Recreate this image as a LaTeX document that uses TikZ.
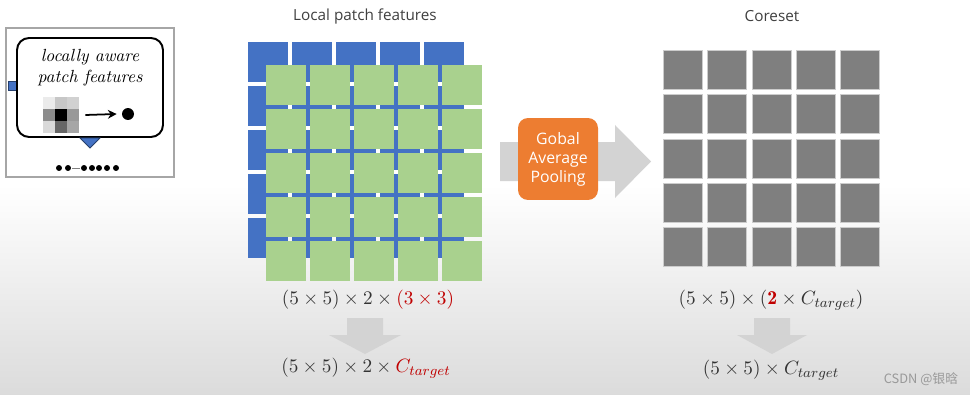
\documentclass[tikz,border=0pt]{standalone}
\usepackage{amsmath}
\usepackage{fontspec}
\setsansfont{Open Sans}
\newfontfamily\cjk{Noto Sans CJK SC}
\usepackage{tikz}
\usetikzlibrary{arrows.meta, positioning, calc}
\definecolor{pblue}{HTML}{4472C4}
\definecolor{pgreen}{HTML}{A9D18E}
\definecolor{cgray}{HTML}{7F7F7F}
\definecolor{agray}{HTML}{D3D3D3}
\definecolor{porange}{HTML}{ED7D31}
\definecolor{tred}{HTML}{C00000}
\tikzset{
  % --- Raster ----------------------------------------------
  cellb/.style={fill=pblue, minimum size=0.8cm, inner sep=0pt,
    anchor=north west},
  cellg/.style={fill=pgreen, minimum size=0.8cm, inner sep=0pt,
    anchor=north west},
  cellc/.style={fill=cgray, draw=black!20, line width=0.5pt,
    minimum size=0.78cm, inner sep=0pt, anchor=north west},
  % --- Texte -----------------------------------------------
  ttl/.style={font=\sffamily\fontsize{8.7}{10}\selectfont, text=black!75},
  eqn/.style={font=\fontsize{11.2}{13}\selectfont, text=black!80},
  itx/.style={font=\itshape\fontsize{10}{11}\selectfont, text=black,
    inner sep=0pt},
  % --- Kaesten / Pfeile ------------------------------------
  gap/.style={fill=porange, rounded corners=0.2cm, minimum width=1.6cm,
    minimum height=1.64cm, align=center, text=white,
    font=\sffamily\fontsize{9}{10.8}\selectfont},
  frame/.style={draw=black!35, fill=white, line width=0.8pt,
    minimum width=3.36cm, minimum height=2.98cm},
  bubble/.style={draw, line width=1.1pt, rounded corners=0.24cm, fill=white,
    minimum width=2.92cm, minimum height=1.98cm},
  tab/.style={fill=pblue, draw=pblue!55!black, line width=0.5pt,
    minimum size=0.18cm, inner sep=0pt},
  blk/.style={fill=agray},
  arr/.style={-{Stealth[length=5pt, width=5pt]}, line width=1pt}
}

\begin{document}
\begin{tikzpicture}[x=0.02cm, y=-0.02cm]

  \useasboundingbox (0,0) rectangle (970,395);
  \fill[white] (0,0) rectangle (970,395);
  \shade[top color=white, bottom color=black!14] (0,185) rectangle (970,395);

  % --- linker Kasten: locally aware patch features ---
  \node[frame] (F) at (90,102.5) {};
  \node[tab] (T) at (12.5,86) {};
  \node[bubble] (Q) at (90,87.5) {};
  \node[itx] (Q1) at (90,57) {locally aware};
  \node[itx] (Q2) at (90,78) {patch features};
  \fill[pblue, draw=pblue!55!black, line width=0.5pt]
    ([xshift=-0.2cm]Q.south) -- ([xshift=0.2cm]Q.south)
    -- ($(Q.south)+(0,10)$) -- cycle;

  \node[minimum size=0.72cm, inner sep=0pt] (P) at (61,115) {};
  \foreach \row/\shades in {0/{8,22,18},1/{45,100,40},2/{15,60,35}}
    \foreach \v [count=\col from 0] in \shades
      \fill[black!\v] ($(P.north west)+(12*\col,12*\row)$) rectangle +(12,12);
  \node[circle, fill=black, minimum size=0.24cm, inner sep=0pt] (Dt) at (128,114) {};
  \draw[arr] ([xshift=0.12cm]P.east) -- ([xshift=-0.1cm]Dt.west);

  \foreach \x in {59,68,84,92,99,107,116}
    \fill[black] (\x,168) circle (1.7pt);
  \draw[black!50, line width=0.4pt] (72,168) -- (80,168);

  % --- Local patch features ---
  \node[ttl] (LT) at (365,16) {Local patch features};
  \foreach \i in {0,...,4}
    \foreach \j in {0,...,4}
      \node[cellb] (b-\i-\j) at ({248+44*\j},{42+44*\i}) {};
  \foreach \i in {0,...,4}
    \foreach \j in {0,...,4}
      \node[cellg] (g-\i-\j) at ({266+44*\j},{65+44*\i}) {};

  % --- Pooling-Pfeil ---
  \fill[blk] (500,142) -- (615,142) -- (615,125) -- (651,161.5)
    -- (615,198) -- (615,181) -- (500,181) -- cycle;
  \node[gap] (GAP) at (558,159) {Gobal\\Average\\Pooling};

  % --- Coreset ---
  \node[ttl] (CT) at (772,16) {Coreset};
  \foreach \i in {0,...,4}
    \foreach \j in {0,...,4}
      \node[cellc] (c-\i-\j) at ({663+44.3*\j},{50+44.3*\i}) {};

  % --- Formeln ---
  \node[eqn] (E1) at (368,300)
    {$(5\times5)\times2\times\textcolor{tred}{(3\times3)}$};
  \node[eqn] (E2) at (366,368)
    {$(5\times5)\times2\times\textcolor{tred}{C_{target}}$};
  \node[eqn] (E3) at (771,300)
    {$(5\times5)\times(\textcolor{tred}{\mathbf{2}}\times C_{target})$};
  \node[eqn] (E4) at (771,370)
    {$(5\times5)\times C_{target}$};

  \fill[blk] (347,318) -- (383,318) -- (383,335) -- (401,335)
    -- (365,354) -- (329,335) -- (347,335) -- cycle;
  \fill[blk] (754,318) -- (790,318) -- (790,335) -- (807,335)
    -- (772,354) -- (737,335) -- (754,335) -- cycle;

  \node[font=\cjk\fontsize{7.3}{8}\selectfont, text=black!40] (W) at (921,379)
    {CSDN @银晗};

\end{tikzpicture}
\end{document}
